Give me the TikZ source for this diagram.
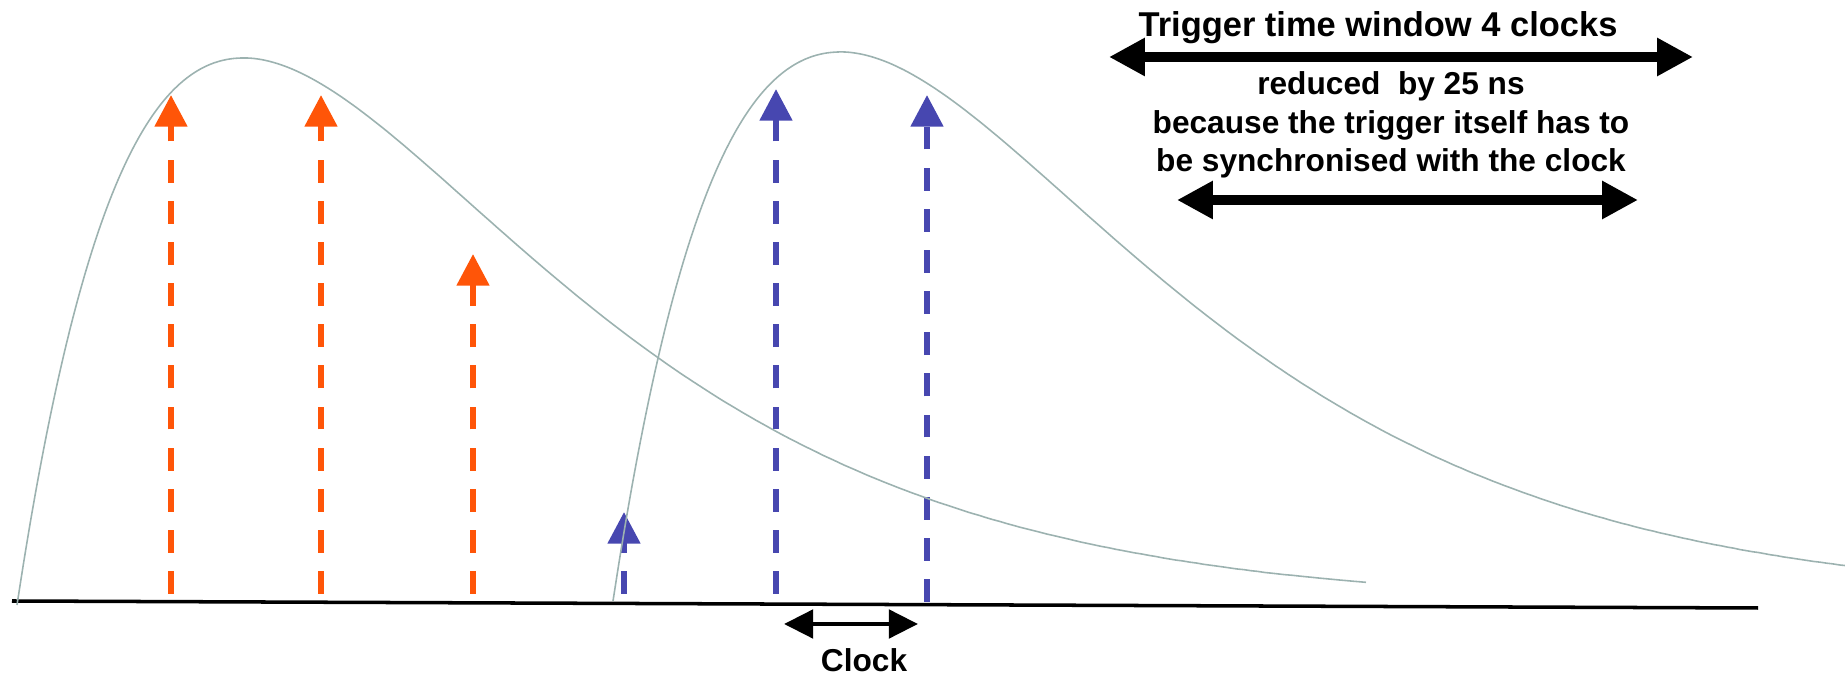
\documentclass[tikz,border=0pt]{standalone}
\usepackage{fontspec}
\setmainfont{Liberation Sans}
\usetikzlibrary{arrows.meta}
\definecolor{HitOrg}  {HTML}{FF5508}
\definecolor{HitBlu}  {HTML}{4747B0}
\definecolor{PulseGry}{HTML}{9CB2B0}

\begin{document}
\begin{tikzpicture}[
  x=0.01cm, y=-0.01cm,
  font=\fontsize{9}{11}\selectfont\bfseries,
  every node/.style={align=center, inner sep=0pt},
  pulse/.style  = {draw=PulseGry, line width=0.45pt},
  hit/.style    = {line width=1.7pt, dash pattern=on 6.5pt off 5.2pt,
                   -{Triangle[length=9pt, width=9pt]}},
  winarr/.style = {line width=2.6pt,
                   {Triangle[length=10.2pt, width=10.2pt]}-{Triangle[length=10.2pt, width=10.2pt]}},
  clkarr/.style = {line width=1.4pt,
                   {Triangle[length=8.3pt, width=8pt]}-{Triangle[length=8.3pt, width=8pt]}},
]
\useasboundingbox (0,0) rectangle (1845,674);

% time axis
\coordinate (axL) at (12,601);
\coordinate (axR) at (1758,608);
\draw[line width=1pt] (axL) -- (axR);

% hits
\foreach \n/\x/\b/\t/\c in {o1/171/594/95/HitOrg, o2/321/594/95/HitOrg,
    o3/473/594/254/HitOrg, b1/624/594/512/HitBlu, b2/776/594/89/HitBlu,
    b3/927/602/95/HitBlu}{
  \coordinate (\n b) at (\x,\b);
  \coordinate (\n t) at (\x,\t);
  \draw[hit, \c] (\n b) -- (\n t);
}

% pulses
\draw[pulse] plot[domain=0:1349, samples=200, smooth]
      ({17+\x},{605-547*(\x/226)*exp(1-\x/226)});
\draw[pulse] plot[domain=0:1232, samples=200, smooth]
      ({613+\x},{601-549*(\x/227)*exp(1-\x/227)});

% windows
\coordinate (winL) at (1109,57);
\coordinate (winR) at (1693,57);
\coordinate (redL) at (1177,200);
\coordinate (redR) at (1638,200);
\coordinate (clkL) at (784,624);
\coordinate (clkR) at (918,624);
\draw[winarr] (winL) -- (winR);
\draw[winarr] (redL) -- (redR);
\draw[clkarr] (clkL) -- (clkR);

\node[anchor=base, font=\fontsize{9.8}{11}\selectfont\bfseries] (title) at (1378,37)
      {Trigger time window 4 clocks};
\node[anchor=base] (note)  at (1391,172)
      {reduced\ \ by 25 ns\\because the trigger itself has to\\be synchronised with the clock};
\node[anchor=base] (clk)   at (864,672) {Clock};
\end{tikzpicture}
\end{document}
